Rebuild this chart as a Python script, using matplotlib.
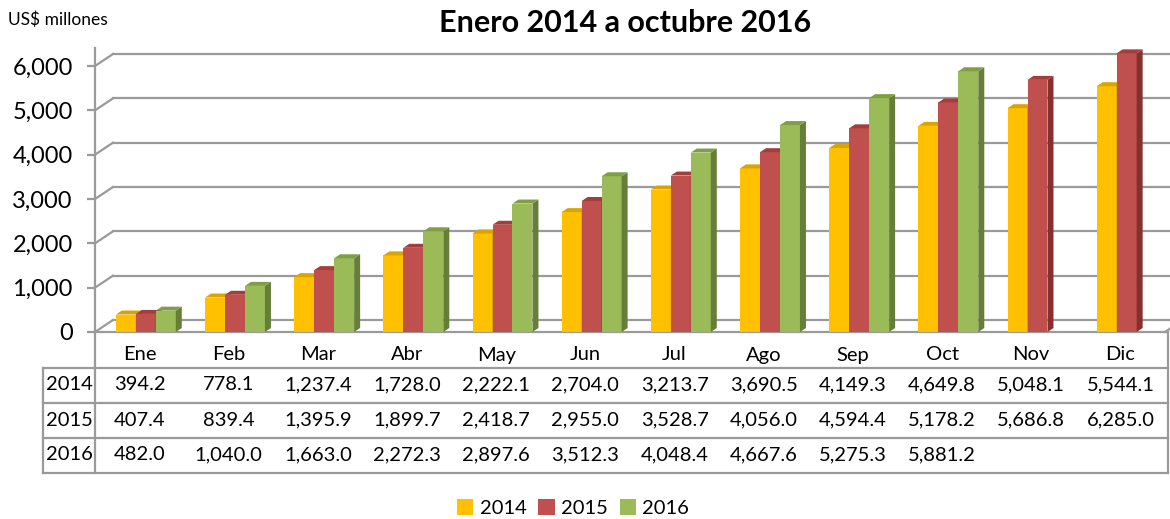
import matplotlib
matplotlib.use('Agg')
import matplotlib.pyplot as plt
import matplotlib.transforms as mtransforms
from matplotlib.patches import Polygon
from matplotlib.patches import Patch

plt.rcParams['font.family'] = ['Lato', 'DejaVu Sans']

months = ['Ene', 'Feb', 'Mar', 'Abr', 'May', 'Jun', 'Jul', 'Ago', 'Sep', 'Oct', 'Nov', 'Dic']
years = ['2014', '2015', '2016']
v2014 = [394.2, 778.1, 1237.4, 1728.0, 2222.1, 2704.0, 3213.7, 3690.5, 4149.3, 4649.8, 5048.1, 5544.1]
v2015 = [407.4, 839.4, 1395.9, 1899.7, 2418.7, 2955.0, 3528.7, 4056.0, 4594.4, 5178.2, 5686.8, 6285.0]
v2016 = [482.0, 1040.0, 1663.0, 2272.3, 2897.6, 3512.3, 4048.4, 4667.6, 5275.3, 5881.2]
series = [v2014, v2015, v2016]

front_cols = ['#FFC000', '#C0504D', '#9BBB59']
top_cols = ['#D9A300', '#A23F3C', '#7F9E45']
side_cols = ['#B38600', '#85302E', '#667F38']
grid_col = '#9A9A9A'

W, H = 1170, 519
fig = plt.figure(figsize=(W / 100, H / 100), dpi=100)
ax = fig.add_axes([95 / W, (H - 332) / H, 1070 / W, 266 * 6400 / 6000 / H])
ax.set_xlim(-0.5, 11.5)
ax.set_ylim(0, 6400)

def fy(py):
    return 1 - py / H

# depth of the back wall (data units)
wdx, wdy = 18 / 89.2, 12 * 6000 / 266
# depth of the bars
bdx, bdy = 6 / 89.2, 4 * 6000 / 266

# back wall gridlines
for g in range(0, 7000, 1000):
    ax.plot([-0.5 + wdx, 11.5 + wdx + 0.2], [g + wdy, g + wdy], color=grid_col, lw=1.6, clip_on=False, zorder=1)
    ax.plot([-0.5, -0.5 + wdx], [g, g + wdy], color=grid_col, lw=1.6, clip_on=False, zorder=1)
ax.plot([11.5, 11.5 + wdx], [0, wdy], color=grid_col, lw=1.6, clip_on=False, zorder=1)

# bars
bw = 0.224
shift = 0.07
for k, vals in enumerate(series):
    xs = [i + shift + (k - 1) * bw for i in range(len(vals))]
    ax.bar(xs, vals, width=bw, color=front_cols[k], zorder=3, linewidth=0)
    for x, v in zip(xs, vals):
        xl, xr = x - bw / 2, x + bw / 2
        ax.add_patch(Polygon([(xr, 0), (xr, v), (xr + bdx, v + bdy), (xr + bdx, bdy)],
                             closed=True, color=side_cols[k], lw=0, zorder=3))
        ax.add_patch(Polygon([(xl, v), (xr, v), (xr + bdx, v + bdy), (xl + bdx, v + bdy)],
                             closed=True, color=top_cols[k], lw=0, zorder=3))

for s in ['top', 'right', 'bottom']:
    ax.spines[s].set_visible(False)
ax.spines['left'].set_color(grid_col)
ax.spines['left'].set_linewidth(1.6)
ax.set_yticks(range(0, 7000, 1000))
ax.set_yticklabels(['{:,}'.format(t) for t in range(0, 7000, 1000)], fontsize=17)
ax.tick_params(axis='y', length=6, width=1.6, color=grid_col, pad=10)
ax.set_xticks([])
ax.patch.set_alpha(0)

# data table below the chart
tr = mtransforms.blended_transform_factory(ax.transData, fig.transFigure)
left_x = -0.5 - 52 / 89.2
right_x = 11.5 + 3 / 89.2
line_kw = dict(color=grid_col, lw=1.6, clip_on=False, transform=tr)
ax.plot([-0.5, right_x], [fy(332), fy(332)], **line_kw)
ax.plot([-0.5, -0.5], [fy(332), fy(473)], **line_kw)
ax.plot([right_x, right_x], [fy(332), fy(473)], **line_kw)
ax.plot([left_x, left_x], [fy(368), fy(473)], **line_kw)
for py in [368, 403, 438, 473]:
    ax.plot([left_x, right_x], [fy(py), fy(py)], **line_kw)

for i, m in enumerate(months):
    ax.text(i, fy(355), m, transform=tr, ha='center', va='center', fontsize=14.5)
row_y = [385, 420, 455]
for k, vals in enumerate(series):
    ax.text((left_x - 0.5) / 2, fy(row_y[k]), years[k], transform=tr, ha='center', va='center', fontsize=14.5)
    for i, v in enumerate(vals):
        ax.text(i, fy(row_y[k]), '{:,.1f}'.format(v), transform=tr, ha='center', va='center', fontsize=14.5)

fig.text(8 / W, fy(20), 'US$ millones', ha='left', va='center', fontsize=12.5)
fig.text(625 / W, fy(23), 'Enero 2014 a octubre 2016', ha='center', va='center', fontsize=22, fontweight='bold')

handles = [Patch(facecolor=c, edgecolor='none') for c in front_cols]
fig.legend(handles, years, loc='center', bbox_to_anchor=(573 / W, fy(508)), ncol=3, frameon=False,
           fontsize=14.5, handlelength=0.8, handleheight=0.8, handletextpad=0.3, columnspacing=0.6)

fig.savefig('out.png', dpi=100)
